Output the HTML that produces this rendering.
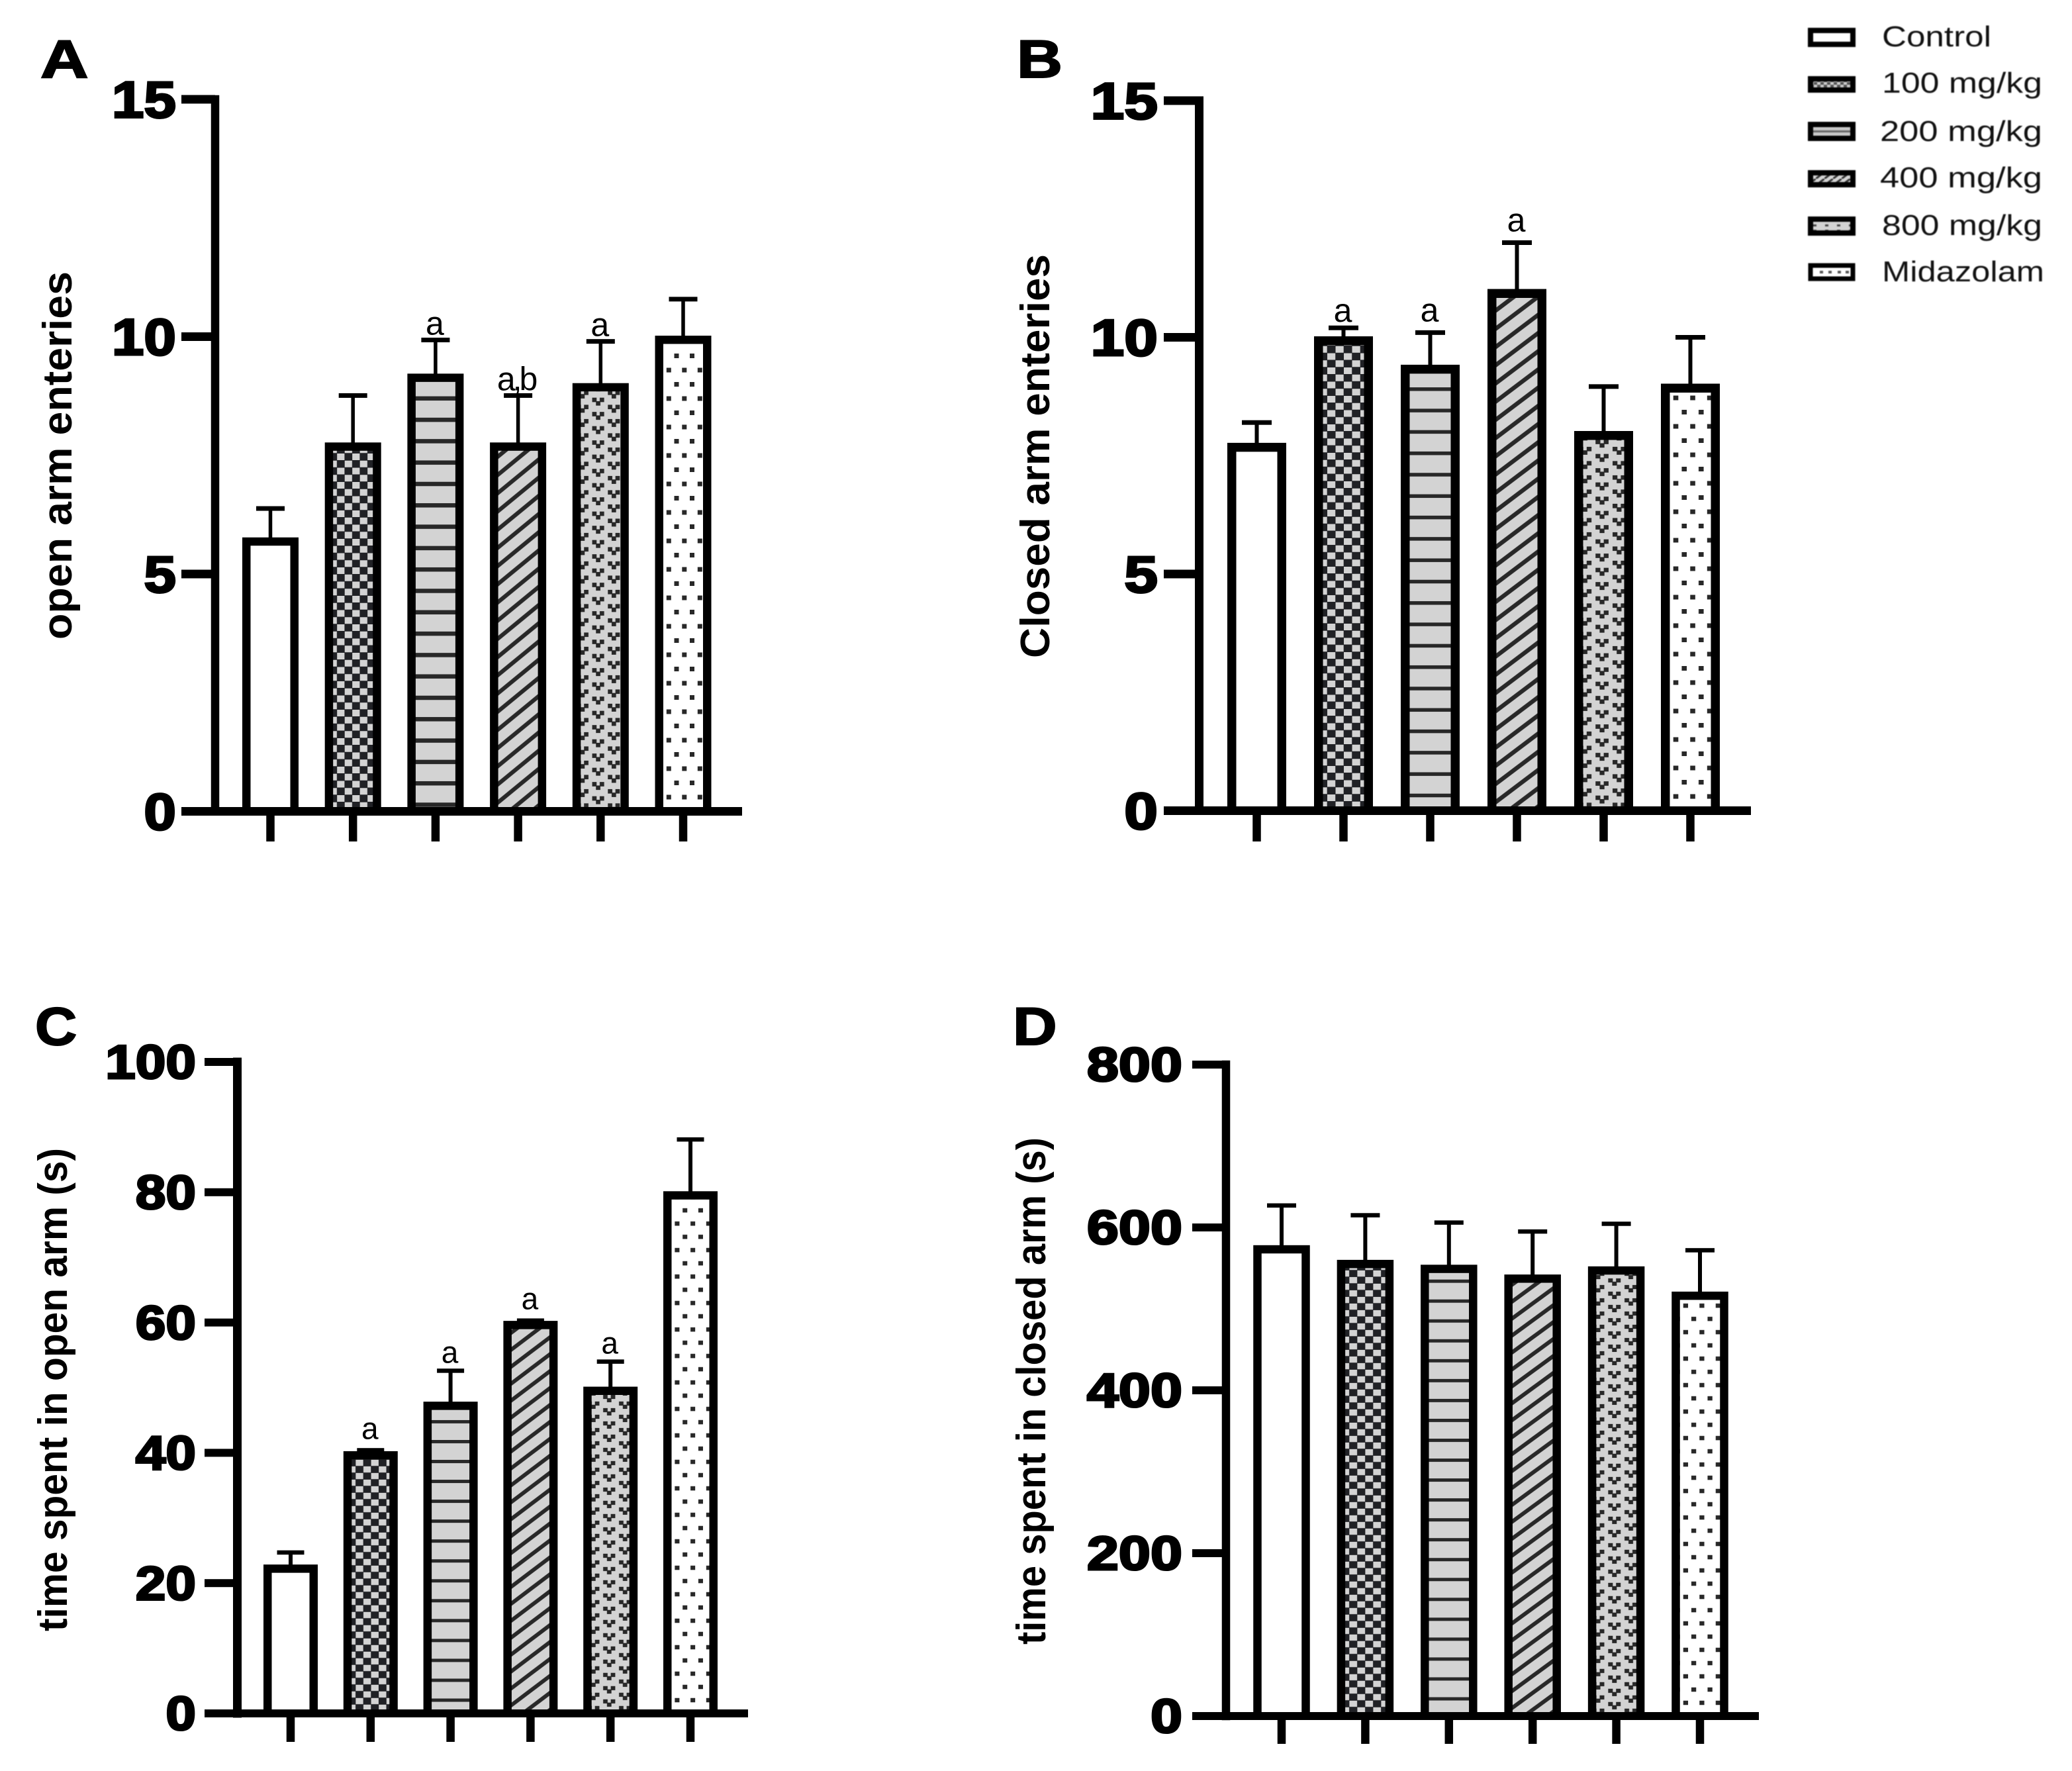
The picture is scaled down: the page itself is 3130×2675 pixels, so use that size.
<!DOCTYPE html>
<html lang="en">
<head>
<meta charset="utf-8">
<title>Elevated plus maze bar charts</title>
<style>
html,body{margin:0;padding:0;background:#fff;}
svg{display:block;}
text{font-family:"Liberation Sans",Arial,sans-serif;fill:#000;}
.ytitle{font-weight:bold;font-size:62px;}
.letter{font-weight:bold;font-size:81px;stroke:#000;stroke-width:2px;}
.legtext{font-size:44px;fill:#111;}
.legend-wrap{filter:blur(0.8px);}
</style>
</head>
<body>
<svg id="figure" xmlns="http://www.w3.org/2000/svg" width="3130" height="2675" viewBox="0 0 3130 2675">
  <rect x="0" y="0" width="3130" height="2675" fill="#ffffff"/>
  <defs id="defs">
    <pattern id="lg-check" patternUnits="userSpaceOnUse" width="10" height="8"><rect width="10" height="8" fill="#555"/><rect width="5" height="4" fill="#ccc"/><rect x="5" y="4" width="5" height="4" fill="#ccc"/></pattern>
    <pattern id="lg-diag" patternUnits="userSpaceOnUse" width="13" height="10"><rect width="13" height="10" fill="#d3d3d3"/><path d="M0 10L13 0" stroke="#333" stroke-width="3"/></pattern>
    <pattern id="lg-v" patternUnits="userSpaceOnUse" width="18" height="8"><rect width="18" height="8" fill="#d3d3d3"/><rect x="3" y="3" width="5" height="3" fill="#444"/></pattern>
  </defs>

  <g id="panel-a">
    <text class="letter" transform="translate(61 117) scale(1.24 1)">A</text>
    <text class="ytitle" transform="translate(108 966) rotate(-90)" textLength="556" lengthAdjust="spacingAndGlyphs">open arm enteries</text>
  </g>
  <g id="panel-b">
    <text class="letter" transform="translate(1536 117) scale(1.18 1)">B</text>
    <text class="ytitle" transform="translate(1585 994) rotate(-90)" textLength="610" lengthAdjust="spacingAndGlyphs">Closed arm enteries</text>
  </g>
  <g id="panel-c">
    <text class="letter" transform="translate(53 1578) scale(1.08 1)">C</text>
    <text class="ytitle" transform="translate(101 2464) rotate(-90)" textLength="730" lengthAdjust="spacingAndGlyphs">time spent in open arm (s)</text>
  </g>
  <g id="panel-d">
    <text class="letter" transform="translate(1530 1578) scale(1.14 1)">D</text>
    <text class="ytitle" transform="translate(1579 2484) rotate(-90)" textLength="766" lengthAdjust="spacingAndGlyphs">time spent in closed arm (s)</text>
  </g>

  <g class="legend-wrap">
    <g>
      <rect x="2735" y="46" width="64" height="21" fill="#fff" stroke="#000" stroke-width="8"/>
      <text class="legtext" x="2843" y="70" textLength="165" lengthAdjust="spacingAndGlyphs">Control</text>
    </g>
    <g>
      <rect x="2735" y="119" width="64" height="17" fill="url(#lg-check)" stroke="#000" stroke-width="8"/>
      <text class="legtext" x="2843" y="140" textLength="242" lengthAdjust="spacingAndGlyphs">100 mg/kg</text>
    </g>
    <g>
      <rect x="2735" y="188" width="64" height="21" fill="#c8c8c8" stroke="#000" stroke-width="8"/>
      <rect x="2739" y="197" width="56" height="3" fill="#666"/>
      <text class="legtext" x="2840" y="213" textLength="245" lengthAdjust="spacingAndGlyphs">200 mg/kg</text>
    </g>
    <g>
      <rect x="2735" y="261" width="64" height="18" fill="url(#lg-diag)" stroke="#000" stroke-width="8"/>
      <text class="legtext" x="2840" y="283" textLength="245" lengthAdjust="spacingAndGlyphs">400 mg/kg</text>
    </g>
    <g>
      <rect x="2735" y="331" width="64" height="21" fill="url(#lg-v)" stroke="#000" stroke-width="8"/>
      <text class="legtext" x="2843" y="355" textLength="242" lengthAdjust="spacingAndGlyphs">800 mg/kg</text>
    </g>
    <g>
      <rect x="2735" y="401" width="64" height="20" fill="#fff" stroke="#000" stroke-width="7"/>
      <path d="M2749 411h5M2762 411h5M2776 411h5M2788 411h5" stroke="#555" stroke-width="4"/>
      <text class="legtext" x="2843" y="425" textLength="245" lengthAdjust="spacingAndGlyphs">Midazolam</text>
    </g>
  </g>
</svg>

<script>
// ---- chart data ----
const categories = ['Control', '100 mg/kg', '200 mg/kg', '400 mg/kg', '800 mg/kg', 'Midazolam'];

const openEntriesValues = [5.75, 7.75, 9.2, 7.75, 9, 10];
const openEntriesErrors = [0.63, 1.01, 0.73, 1.01, 0.9, 0.79];
const openEntriesTicks = [0, 5, 10, 15];
const openEntriesNotes = ['', '', 'a', 'a,b', 'a', ''];

const closedEntriesValues = [7.75, 10, 9.4, 11, 8, 9];
const closedEntriesErrors = [0.45, 0.2, 0.7, 1, 0.96, 1];
const closedEntriesTicks = [0, 5, 10, 15];
const closedEntriesNotes = ['', 'a', 'a', 'a', '', ''];

const openTimeValues = [22.7, 40.1, 47.7, 60.1, 50, 80];
const openTimeErrors = [2, 0.3, 4.9, 0.2, 4, 8.1];
const openTimeTicks = [0, 20, 40, 60, 80, 100];
const openTimeNotes = ['', 'a', 'a', 'a', 'a', ''];

const closedTimeValues = [577, 559, 553, 541, 551, 520];
const closedTimeErrors = [50, 56, 53, 54, 53.5, 52];
const closedTimeTicks = [0, 200, 400, 600, 800];
const closedTimeNotes = ['', '', '', '', '', ''];

// ---- rendering ----
const NS = 'http://www.w3.org/2000/svg';
const defs = document.getElementById('defs');

function make(parent, tag, attrs) {
  const el = document.createElementNS(NS, tag);
  for (const key in attrs) el.setAttribute(key, attrs[key]);
  parent.appendChild(el);
  return el;
}

const patternKinds = ['blank', 'checker', 'lines', 'diagonal', 'vshapes', 'dots'];

function buildPattern(kind, id, innerLeft, baseline, cfg) {
  const sx = cfg.sx, sy = cfg.sy;
  let tw, th, ax, ay, bg = '#d3d3d3';
  if (kind === 'checker') { tw = 23; th = 21.5; ax = innerLeft + 6 * sx; ay = baseline - 6.5 - 18 * sy; }
  if (kind === 'lines') { tw = 40; th = 32.3; ax = innerLeft; ay = baseline - cfg.lineOffset - cfg.lineH / 2; }
  if (kind === 'diagonal') { tw = 33.5; th = 27.5; ax = innerLeft; ay = baseline - 41.25 * sy; }
  if (kind === 'vshapes') { tw = 47.4; th = 21.5; ax = innerLeft + 26.3 * sx; ay = baseline - 19.5 * sy; }
  if (kind === 'dots') { tw = 23.5; th = 43; ax = innerLeft; ay = baseline; bg = '#ffffff'; }
  const p = make(defs, 'pattern', {
    id: id, patternUnits: 'userSpaceOnUse', width: tw, height: th,
    patternTransform: 'translate(' + ax + ' ' + ay + ') scale(' + sx + ' ' + sy + ')'
  });
  make(p, 'rect', { x: 0, y: 0, width: tw, height: th, fill: bg });
  const ink = kind === 'checker' ? '#202125' : '#282828';
  if (kind === 'checker') {
    make(p, 'rect', { x: 0, y: 0, width: tw, height: th, fill: ink });
    make(p, 'rect', { x: 0, y: 0, width: 11.2, height: 10, fill: '#d3d3d3' });
    make(p, 'rect', { x: 11.5, y: 10.75, width: 11.2, height: 10, fill: '#d3d3d3' });
  }
  if (kind === 'lines') {
    make(p, 'rect', { x: 0, y: 0, width: tw, height: cfg.lineH / sy, fill: ink });
  }
  if (kind === 'diagonal') {
    [-th, 0, th].forEach(function (dy) {
      make(p, 'line', { x1: -tw, y1: th * 2 + dy, x2: tw * 2, y2: dy - th, stroke: ink, 'stroke-width': 6.2 });
    });
  }
  const square = function (cx, cy, size) {
    make(p, 'rect', { x: cx - size / 2, y: cy - size / 2, width: size, height: size, fill: ink });
  };
  if (kind === 'vshapes') {
    [-1, 0, 1].forEach(function (i) {
      [-1, 0, 1].forEach(function (j) {
        [[0, 0], [23.7, 10.75]].forEach(function (o) {
          const cx = o[0] + i * tw, cy = o[1] + j * th;
          square(cx - 5.7, cy, 6.7);
          square(cx + 5.7, cy, 6.7);
          square(cx, cy + 5.3, 6.7);
        });
      });
    });
  }
  if (kind === 'dots') {
    [-1, 0, 1].forEach(function (i) {
      [-1, 0, 1].forEach(function (j) {
        square(20 + i * tw, j * th, 7);
        square(8.3 + i * tw, 21.5 + j * th, 7);
      });
    });
  }
}

function drawPanel(cfg) {
  const root = document.getElementById(cfg.rootId);
  const maxTick = cfg.ticks[cfg.ticks.length - 1];
  const yScale = function (v) { return cfg.baseline - (v / maxTick) * (cfg.baseline - cfg.top); };
  const xScale = function (i) { return cfg.firstX + i * cfg.stepX; };

  // bars
  cfg.values.forEach(function (value, i) {
    const cx = xScale(i);
    const topY = yScale(value) - 1.5;
    const errY = yScale(value + cfg.errors[i]);
    const g = make(root, 'g', {});
    
    

    const stem = make(g, 'rect', { x: cx - cfg.stemW / 2, y: errY, width: cfg.stemW, height: topY - errY + 2, fill: '#000' });
    
    

    const cap = make(g, 'rect', { x: cx - cfg.capW / 2, y: errY - cfg.capH / 2, width: cfg.capW, height: cfg.capH, fill: '#000' });
    
    

    const outer = make(g, 'rect', { x: cx - cfg.barW / 2, y: topY, width: cfg.barW, height: cfg.baseline - topY, fill: '#000' });
    
    

    const kind = patternKinds[i];
    const innerLeft = cx - cfg.barW / 2 + cfg.barStroke;
    let fill = '#ffffff';
    if (kind !== 'blank') {
      const pid = cfg.rootId + '-pat-' + i;
      buildPattern(kind, pid, innerLeft, cfg.baseline, cfg);
      fill = 'url(#' + pid + ')';
    }
    const inner = make(g, 'rect', {
      x: innerLeft, y: topY + cfg.barStroke,
      width: cfg.barW - 2 * cfg.barStroke,
      height: Math.max(0, cfg.baseline - topY - cfg.barStroke),
      fill: fill
    });
    
    

    const note = cfg.notes[i];
    if (note) {
      const errPx = topY - errY;
      const lift = errPx < 20 ? cfg.noteGapSmall : cfg.noteGap;
      const t = make(g, 'text', { x: cx - 3, y: errY - lift, 'text-anchor': 'middle', 'font-size': cfg.noteSize, 'letter-spacing': '-4px' });
      
      
      t.textContent = note;
    }
  });

  // axes
  const yAxis = make(root, 'rect', { x: cfg.axisX - cfg.axisW / 2, y: cfg.top - cfg.axisW / 2, width: cfg.axisW, height: cfg.baseline - cfg.top + cfg.axisW, fill: '#000' });
  
  

  const xAxis = make(root, 'rect', { x: cfg.leftEnd, y: cfg.baseline - cfg.axisH / 2, width: cfg.rightEnd - cfg.leftEnd, height: cfg.axisH, fill: '#000' });
  
  

  cfg.ticks.forEach(function (tick) {
    const y = yScale(tick);
    const mark = make(root, 'rect', { x: cfg.leftEnd, y: y - cfg.axisH / 2, width: cfg.axisX - cfg.leftEnd, height: cfg.axisH, fill: '#000' });
    
    

    const label = make(root, 'text', {
      transform: 'translate(' + cfg.labelRight + ' ' + (y + cfg.tickFont * 0.35) + ') scale(' + cfg.labelScale + ' 1)',
      'text-anchor': 'end', 'font-size': cfg.tickFont, 'font-weight': 'bold',
      stroke: '#000', 'stroke-width': cfg.labelStroke
    });
    
    
    label.textContent = tick;
  });

  categories.forEach(function (name, i) {
    const mark = make(root, 'rect', { x: xScale(i) - 6.25, y: cfg.baseline, width: 12.5, height: cfg.tickBottom - cfg.baseline, fill: '#000' });
    
    
    const tip = make(mark, 'title', {});
    tip.textContent = name;
  });
}

drawPanel({
  rootId: 'panel-a', values: openEntriesValues, errors: openEntriesErrors, ticks: openEntriesTicks, notes: openEntriesNotes,
  baseline: 1225.5, top: 150, axisX: 325, axisW: 12.5, axisH: 13, leftEnd: 274, rightEnd: 1121, tickBottom: 1271,
  firstX: 408.5, stepX: 124.7, barW: 85, barStroke: 12.5, stemW: 5.5, capW: 43, capH: 7,
  sx: 1, sy: 1, lineH: 6.5, lineOffset: 10,
  labelRight: 266, tickFont: 78, labelScale: 1.12, labelStroke: 3, noteGap: 8, noteGapSmall: 8, noteSize: 50
});
drawPanel({
  rootId: 'panel-b', values: closedEntriesValues, errors: closedEntriesErrors, ticks: closedEntriesTicks, notes: closedEntriesNotes,
  baseline: 1224.5, top: 152, axisX: 1811.5, axisW: 13, axisH: 13, leftEnd: 1758, rightEnd: 2645, tickBottom: 1271,
  firstX: 1898.5, stepX: 131, barW: 89, barStroke: 13.5, stemW: 6, capW: 45, capH: 7,
  sx: 1.087, sy: 1, lineH: 5.5, lineOffset: 23,
  labelRight: 1749, tickFont: 78, labelScale: 1.17, labelStroke: 3, noteGap: 17, noteGapSmall: 9, noteSize: 50
});
drawPanel({
  rootId: 'panel-c', values: openTimeValues, errors: openTimeErrors, ticks: openTimeTicks, notes: openTimeNotes,
  baseline: 2588, top: 1604, axisX: 358.5, axisW: 13, axisH: 12, leftEnd: 309, rightEnd: 1130, tickBottom: 2631,
  firstX: 439, stepX: 120.8, barW: 82, barStroke: 12.5, stemW: 6, capW: 41, capH: 6.5,
  sx: 1.01, sy: 0.93, lineH: 5, lineOffset: 20,
  labelRight: 296, tickFont: 72, labelScale: 1.14, labelStroke: 3, noteGap: 12, noteGapSmall: 17, noteSize: 46
});
drawPanel({
  rootId: 'panel-d', values: closedTimeValues, errors: closedTimeErrors, ticks: closedTimeTicks, notes: closedTimeNotes,
  baseline: 2592, top: 1608, axisX: 1852, axisW: 12.5, axisH: 12, leftEnd: 1801, rightEnd: 2657, tickBottom: 2634,
  firstX: 1936, stepX: 126.4, barW: 85.5, barStroke: 12.5, stemW: 6, capW: 44, capH: 6.5,
  sx: 1.043, sy: 0.93, lineH: 5, lineOffset: 26,
  labelRight: 1786, tickFont: 72, labelScale: 1.2, labelStroke: 3, noteGap: 12, noteGapSmall: 17, noteSize: 46
});
</script>
</body>
</html>
